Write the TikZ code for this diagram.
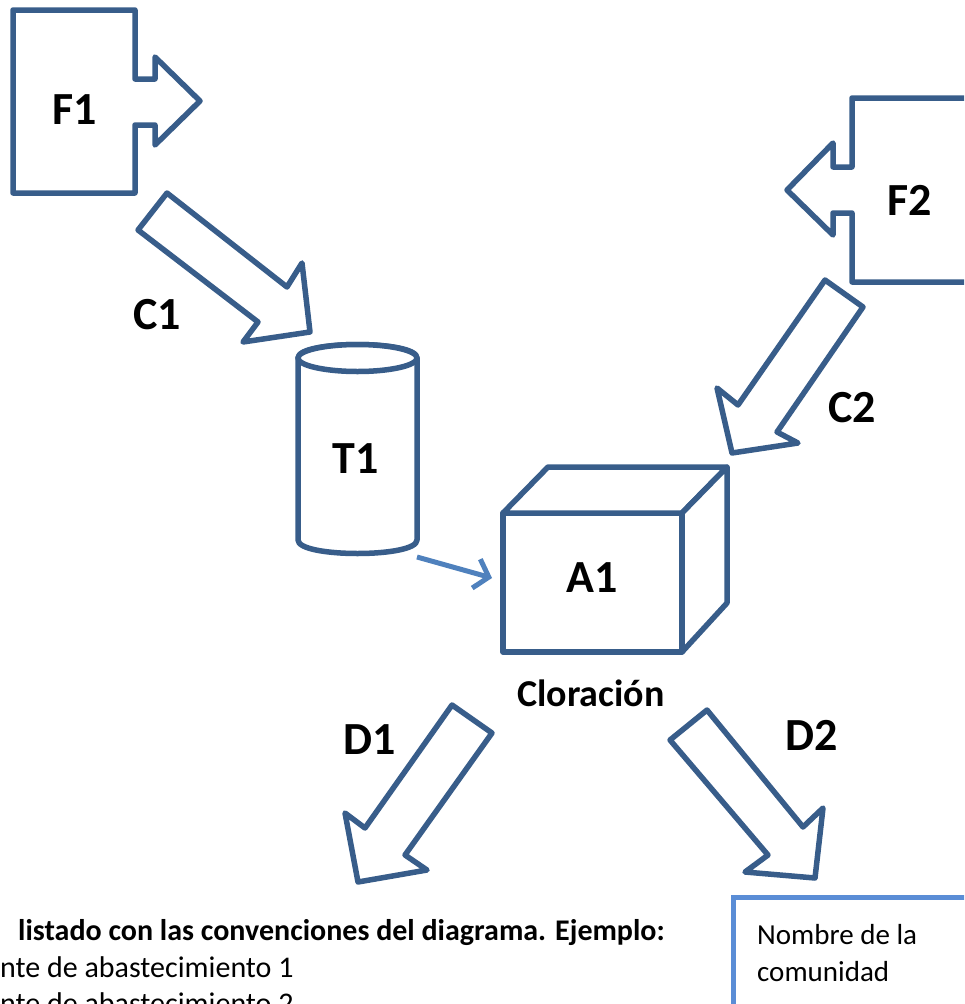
\documentclass[tikz,border=0pt]{standalone}
\usepackage{fontspec}
\setmainfont{Carlito}
\usetikzlibrary{arrows.meta}
\definecolor{shapeblue}{HTML}{385D8A}
\definecolor{arrowblue}{HTML}{4F81BD}
\definecolor{boxblue}{HTML}{5A8DD6}
\begin{document}
\begin{tikzpicture}[x=1pt,y=-1pt,
  blockshape/.style={draw=shapeblue, line width=5.5pt, line join=round, fill=white},
  lbl/.style={font=\fontsize{46}{54}\selectfont\bfseries, inner sep=0pt},
  bodytext/.style={font=\fontsize{29}{36}\selectfont, inner sep=0pt, anchor=base west},
  legtext/.style={font=\fontsize{30}{36}\selectfont, inner sep=0pt, anchor=base west},
  connector/.style={draw=arrowblue, line width=5pt, -{Straight Barb[length=13pt,width=30pt]}}]
\useasboundingbox (0,0) rectangle (964,1004);
\clip (0,0) rectangle (964,1004);

% F1 source
\draw[blockshape] (13,10) -- (135,10) -- (135,79) -- (155,79) -- (155,57) -- (200,101)
  -- (155,145) -- (155,125) -- (135,125) -- (135,193) -- (13,193) -- cycle;
\node[lbl] (F1) at (75,110) {F1};

% F2 source
\draw[blockshape] (1000,98) -- (852,98) -- (852,167) -- (833,167) -- (833,143) -- (787,190)
  -- (833,235) -- (833,213) -- (852,213) -- (852,282) -- (1000,282) -- cycle;
\node[lbl] (F2) at (910,200) {F2};

% C1 arrow
\draw[blockshape] (167,193) -- (287,287) -- (302,263) -- (310,332) -- (243,342) -- (258,322) -- (138,230) -- cycle;
\node[lbl] (C1) at (157,315) {C1};

% C2 arrow
\draw[blockshape] (825,280) -- (738,405) -- (717,388) -- (732,453) -- (798,443) -- (777,432) -- (863,307) -- cycle;
\node[lbl] (C2) at (852,408) {C2};

% T1 tank
\path[blockshape] (298,358) -- (298,540) .. controls (298,558) and (417,558) .. (417,540)
  -- (417,358) .. controls (417,340) and (298,340) .. (298,358) -- cycle;
\draw[blockshape] (357.5,358) ellipse [x radius=59.5pt, y radius=13.5pt];
\node[lbl] (T1) at (356,459) {T1};

% A1 cube
\draw[blockshape] (503,513) rectangle (682,652);
\draw[blockshape] (503,513) -- (548,467) -- (727,467) -- (682,513) -- cycle;
\draw[blockshape] (682,513) -- (727,467) -- (727,603) -- (682,652) -- cycle;
\node[lbl] (A1) at (592,578) {A1};
\node[lbl, font=\fontsize{38}{46}\selectfont\bfseries] (clor) at (591,693) {Cloración};

% connector T1 -> A1
\coordinate (t1out) at (417,557);
\coordinate (a1in) at (492,578);
\draw[connector] (t1out) -- (a1in);

% D1 arrow
\draw[blockshape] (452,705) -- (365,828) -- (345,813) -- (358,882) -- (427,870) -- (405,855) -- (492,733) -- cycle;
\node[lbl] (D1) at (370,740) {D1};

% D2 arrow
\draw[blockshape] (707,710) -- (803,827) -- (823,808) -- (815,878) -- (745,872) -- (768,855) -- (670,740) -- cycle;
\node[lbl] (D2) at (812,735) {D2};

% legend text
\node[legtext, font=\fontsize{30}{36}\selectfont\bfseries] (leg1) at (18,940) {listado con las convenciones del diagrama. Ejemplo:};
\node[legtext] (leg2) at (0,977) {nte de abastecimiento 1};
\node[legtext] (leg3) at (0,1013) {nte de abastecimiento 2};

% community box
\draw[draw=boxblue, line width=5pt, fill=white] (733,897) rectangle (1000,1050);
\node[bodytext] (com1) at (757,944) {Nombre de la};
\node[bodytext] (com2) at (757,981) {comunidad};
\end{tikzpicture}
\end{document}
